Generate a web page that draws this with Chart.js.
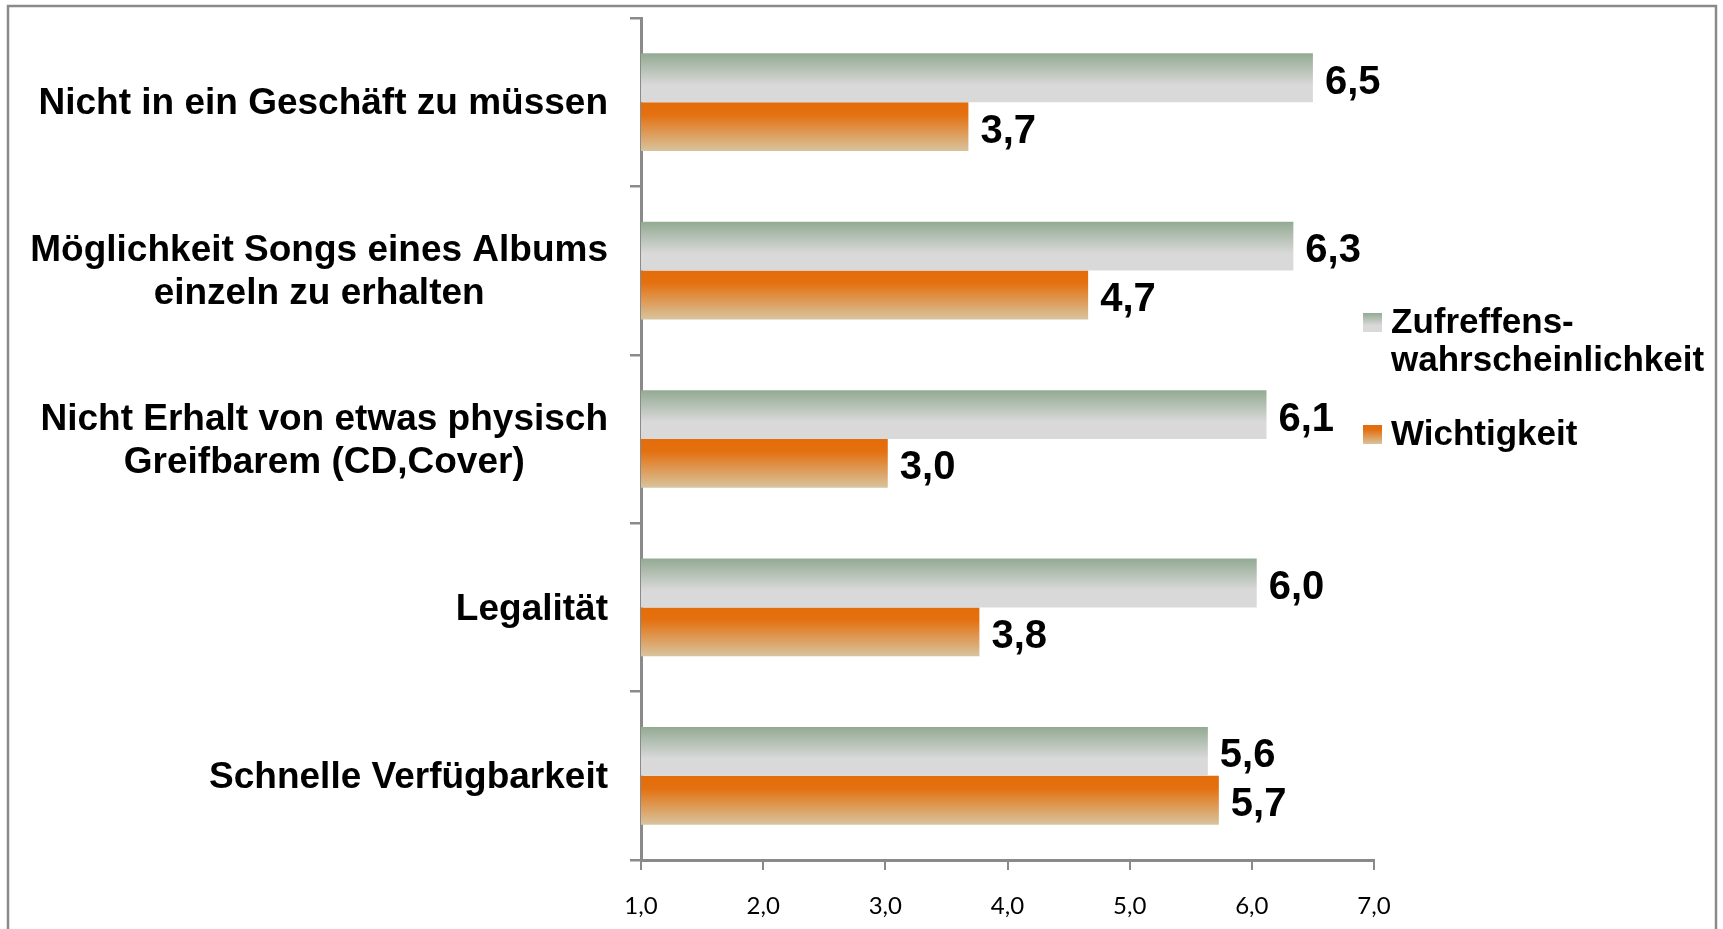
<!DOCTYPE html>
<html>
<head>
<meta charset="utf-8">
<script src="https://cdn.jsdelivr.net/npm/chart.js@4/dist/chart.umd.min.js"></script>
<style>
  body { margin: 0; background: #fff; }
  #wrap { width: 1723px; height: 929px; }
</style>
</head>
<body>
<div id="wrap"><canvas id="mycanvas" width="1723" height="929"></canvas></div>
<script>
// categories (top to bottom)
var categories = [
  ["Nicht in ein Geschäft zu müssen"],
  ["Möglichkeit Songs eines Albums", "einzeln zu erhalten"],
  ["Nicht Erhalt von etwas physisch", "Greifbarem (CD,Cover)"],
  ["Legalität"],
  ["Schnelle Verfügbarkeit"]
];
var seriesNames = [["Zufreffens-", "wahrscheinlichkeit"], ["Wichtigkeit"]];
var zutreffen = [6.5, 6.34, 6.12, 6.04, 5.64];
var wichtigkeit = [3.68, 4.66, 3.02, 3.77, 5.73];
var xTicks = [1, 2, 3, 4, 5, 6, 7];

var catPct = 0.58;
var greenStops = [[0, "#93aa92"], [0.65, "#d9d9d9"], [1, "#d9d9d9"]];
var orangeStops = [[0, "#e46c0a"], [0.25, "#e4700f"], [1, "#d8c49e"]];

function fmt(v) { return v.toFixed(1).replace(".", ","); }

function barGradient(ctx, stops) {
  var chart = ctx.chart;
  var y = chart.scales && chart.scales.y;
  if (ctx.type !== "data" || !y || !chart.chartArea) return stops[0][1];
  var c = y.getPixelForValue(ctx.dataIndex);
  var h = Math.abs(y.getPixelForValue(1) - y.getPixelForValue(0)) * catPct / 2;
  var top = ctx.datasetIndex === 0 ? c - h : c;
  var g = chart.ctx.createLinearGradient(0, top, 0, top + h);
  stops.forEach(function (s) { g.addColorStop(s[0], s[1]); });
  return g;
}

function legendSwatch(c, x, y, s, stops) {
  var g = c.createLinearGradient(0, y, 0, y + s);
  stops.forEach(function (st) { g.addColorStop(st[0], st[1]); });
  c.fillStyle = g;
  c.fillRect(x, y, s, s);
}

var decor = {
  id: "decor",
  beforeDraw: function (chart) {
    var c = chart.ctx;
    c.save();
    c.fillStyle = "#fff";
    c.fillRect(0, 0, chart.width, chart.height);
    c.strokeStyle = "#8a8a8a";
    c.lineWidth = 2.5;
    c.strokeRect(8, 6, 1708, 1000);
    c.restore();
  },
  afterDatasetsDraw: function (chart) {
    var c = chart.ctx;
    c.save();
    c.fillStyle = "#000";
    c.font = "bold 40px 'Liberation Sans', Arial, sans-serif";
    c.textBaseline = "middle";
    c.textAlign = "left";
    chart.data.datasets.forEach(function (ds, di) {
      chart.getDatasetMeta(di).data.forEach(function (el, i) {
        c.fillText(fmt(ds.data[i]), el.x + 12, el.y + 5);
      });
    });
    c.restore();
  },
  afterDraw: function (chart) {
    var c = chart.ctx;
    var y = chart.scales.y;
    var area = chart.chartArea;
    c.save();
    // category labels, block right-aligned, lines centred
    c.fillStyle = "#000";
    c.font = "bold 37px 'Liberation Sans', Arial, sans-serif";
    c.textBaseline = "middle";
    c.textAlign = "center";
    var right = area.left - 33;
    var lh = 43;
    categories.forEach(function (lines, i) {
      var w = 0;
      lines.forEach(function (t) { w = Math.max(w, c.measureText(t).width); });
      var cy = y.getPixelForValue(i) - (lines.length - 1) * lh / 2 + 2;
      lines.forEach(function (t, k) { c.fillText(t, right - w / 2, cy + k * lh); });
    });
    // legend
    c.textAlign = "left";
    c.font = "bold 35px 'Liberation Sans', Arial, sans-serif";
    var lx = area.right - 11;
    var entries = [{ y: 323, stops: greenStops }, { y: 435, stops: orangeStops }];
    seriesNames.forEach(function (lines, i) {
      var e = entries[i];
      legendSwatch(c, lx, e.y - 10, 19, e.stops);
      c.fillStyle = "#000";
      lines.forEach(function (t, k) { c.fillText(t, lx + 28, e.y + k * 38); });
    });
    c.restore();
  }
};

var ctx = document.getElementById("mycanvas");
var chart = new Chart(ctx, {
  type: "bar",
  data: {
    labels: categories,
    datasets: [
      {
        label: seriesNames[0].join(""),
        data: zutreffen,
        backgroundColor: function (c) { return barGradient(c, greenStops); },
        categoryPercentage: catPct,
        barPercentage: 1.0
      },
      {
        label: seriesNames[1].join(""),
        data: wichtigkeit,
        backgroundColor: function (c) { return barGradient(c, orangeStops); },
        categoryPercentage: catPct,
        barPercentage: 1.0
      }
    ]
  },
  options: {
    indexAxis: "y",
    responsive: false,
    animation: false,
    layout: { padding: { top: 18, right: 349, bottom: 0, left: 0 } },
    plugins: { legend: { display: false }, tooltip: { enabled: false } },
    scales: {
      x: {
        type: "linear",
        min: xTicks[0],
        max: xTicks[xTicks.length - 1],
        afterBuildTicks: function (s) { s.ticks = xTicks.map(function (v) { return { value: v }; }); },
        afterFit: function (s) { s.height = 69; },
        grid: { drawOnChartArea: false, drawTicks: true, tickLength: 10, color: "#8a8a8a", lineWidth: 2 },
        border: { color: "#8a8a8a", width: 3 },
        ticks: {
          padding: 22,
          color: "#000",
          font: { family: "Lato, 'Open Sans', sans-serif", size: 24 },
          callback: function (v) { return fmt(v); }
        }
      },
      y: {
        afterFit: function (s) { s.width = 641; },
        grid: { drawOnChartArea: false, drawTicks: true, tickLength: 11, color: "#8a8a8a", lineWidth: 2.5, offset: true },
        border: { color: "#8a8a8a", width: 3 },
        ticks: { display: false }
      }
    }
  },
  plugins: [decor]
});
</script>
</body>
</html>
